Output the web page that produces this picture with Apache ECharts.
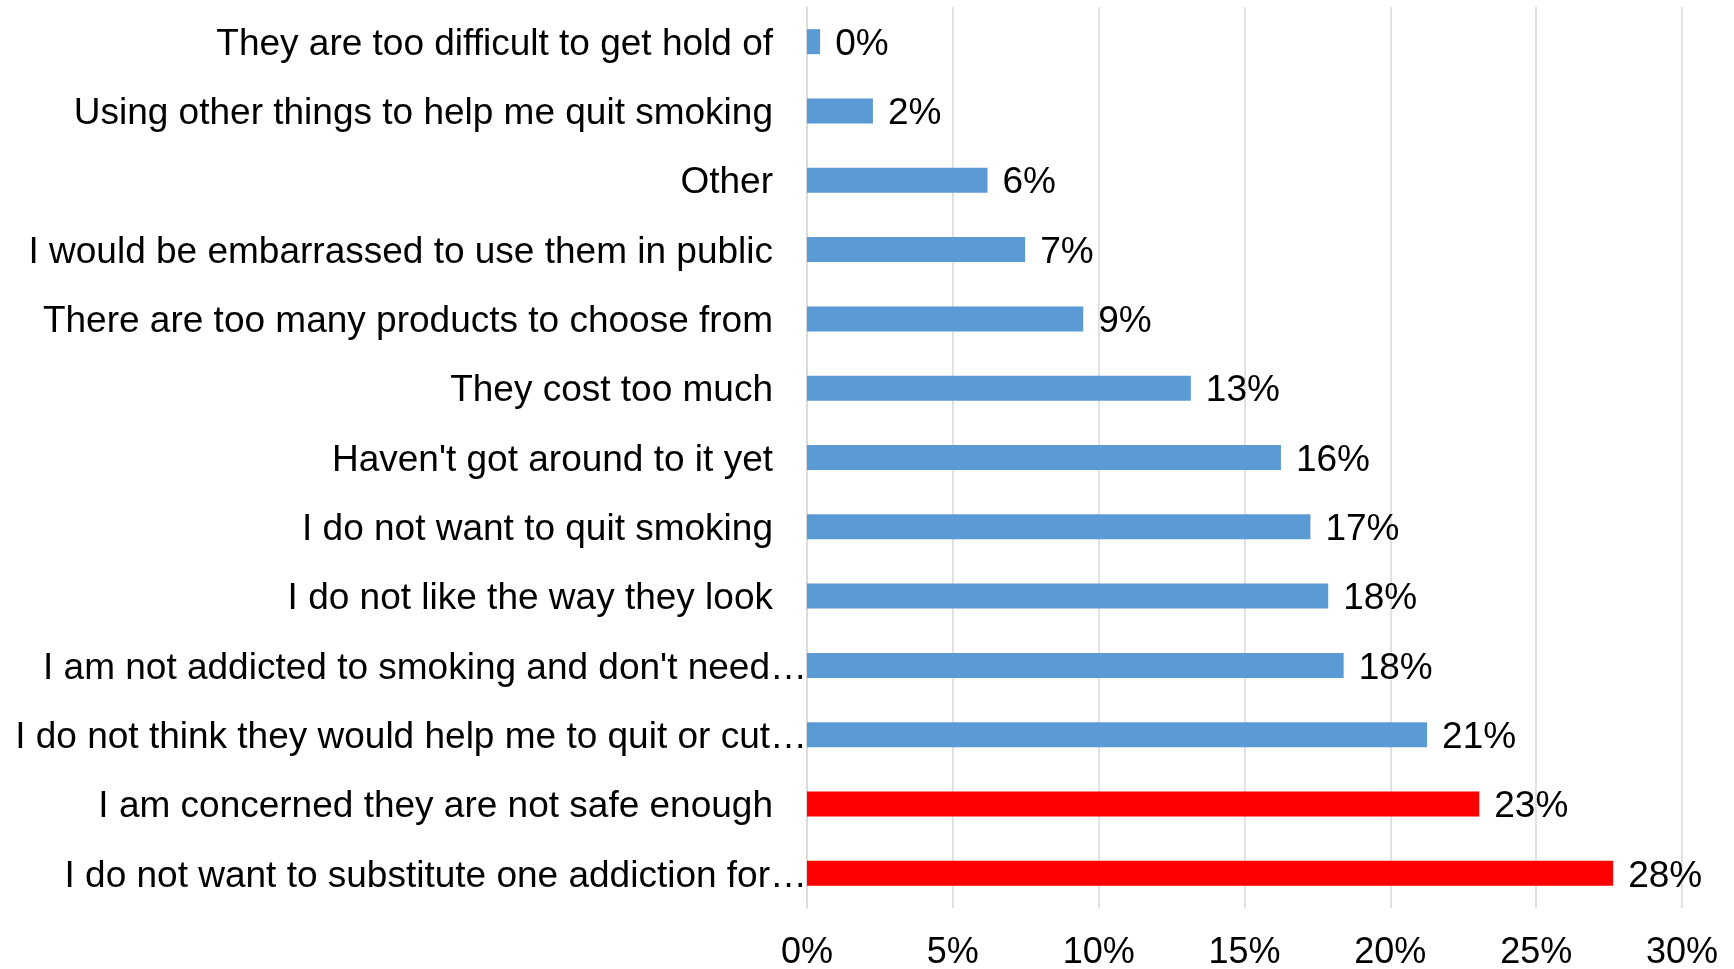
<!DOCTYPE html>
<html>
<head>
<meta charset="utf-8">
<title>Reasons for not using stop-smoking products</title>
<script src="https://cdn.jsdelivr.net/npm/echarts@6/dist/echarts.min.js"></script>
<style>
  html, body { margin: 0; padding: 0; background: #ffffff; }
  #chart { width: 1734px; height: 969px; }
</style>
</head>
<body>
<div id="chart"></div>
<script>
// Reasons, listed top to bottom
const categories = [
  "They are too difficult to get hold of",
  "Using other things to help me quit smoking",
  "Other",
  "I would be embarrassed to use them in public",
  "There are too many products to choose from",
  "They cost too much",
  "Haven't got around to it yet",
  "I do not want to quit smoking",
  "I do not like the way they look",
  "I am not addicted to smoking and don't need\u2026",
  "I do not think they would help me to quit or cut\u2026",
  "I am concerned they are not safe enough",
  "I do not want to substitute one addiction for\u2026"
];

// Share of respondents (%)
const shares = [0.45, 2.26, 6.19, 7.48, 9.47, 13.16, 16.25, 17.26, 17.87, 18.40, 21.26, 23.05, 27.64];

// Reasons highlighted in red
const highlighted = [
  "I am concerned they are not safe enough",
  "I do not want to substitute one addiction for\u2026"
];

// Value axis ticks
const tickMin = 0;
const tickMax = 30;
const tickStep = 5;

const BLUE = '#5b9bd5';
const RED = '#ff0000';
const FONT = '"Liberation Sans", Arial, sans-serif';
const LABEL_SIZE = 37;

const seriesData = shares.map((v, i) => ({
  value: v,
  itemStyle: { color: highlighted.includes(categories[i]) ? RED : BLUE }
}));

const chart = echarts.init(document.getElementById('chart'));
chart.setOption({
  animation: false,
  backgroundColor: '#ffffff',
  textStyle: { fontFamily: FONT },
  grid: {
    left: 807, right: 52, top: 7, bottom: 61,
    containLabel: false,
    outerBoundsMode: 'none'
  },
  xAxis: {
    type: 'value',
    min: tickMin,
    max: tickMax,
    interval: tickStep,
    axisLine: { show: false },
    axisTick: { show: false },
    splitLine: { show: true, lineStyle: { color: '#d9d9d9', width: 1.5 } },
    axisLabel: {
      margin: 27,
      color: '#000000',
      fontSize: 36,
      fontFamily: FONT,
      formatter: v => v + '%'
    }
  },
  yAxis: {
    type: 'category',
    inverse: true,
    data: categories,
    axisLine: { show: true, lineStyle: { color: '#d9d9d9', width: 1.5 } },
    axisTick: { show: false },
    splitLine: { show: false },
    axisLabel: {
      margin: 0,
      color: '#000000',
      fontSize: LABEL_SIZE,
      fontFamily: FONT,
      // truncated labels run up to the axis; full ones keep a gap
      formatter: v => v.endsWith('\u2026') ? '{c|' + v + '}' : '{n|' + v + '}',
      rich: {
        n: { fontSize: LABEL_SIZE, fontFamily: FONT, color: '#000000', padding: [6, 34, 0, 0] },
        c: { fontSize: LABEL_SIZE, fontFamily: FONT, color: '#000000', padding: [6, 0, 0, 0] }
      }
    }
  },
  series: [{
    type: 'bar',
    data: seriesData,
    barWidth: 25,
    label: {
      show: true,
      position: 'right',
      distance: 15,
      offset: [0, 3],
      color: '#000000',
      fontSize: LABEL_SIZE,
      fontFamily: FONT,
      formatter: p => Math.round(p.value) + '%'
    }
  }]
});
</script>
</body>
</html>
